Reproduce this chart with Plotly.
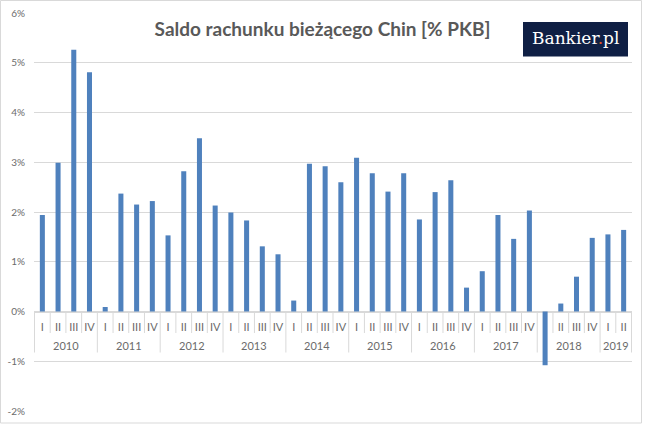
import plotly.graph_objects as go

year_labels = ["2010", "2011", "2012", "2013", "2014", "2015", "2016", "2017", "2018", "2019"]
quarters_per_year = [4, 4, 4, 4, 4, 4, 4, 4, 4, 2]
quarter_names = ["I", "II", "III", "IV"]

values = [1.94, 2.99, 5.26, 4.81,
          0.09, 2.37, 2.15, 2.22,
          1.53, 2.82, 3.48, 2.13,
          1.99, 1.83, 1.31, 1.15,
          0.22, 2.97, 2.92, 2.60,
          3.09, 2.78, 2.41, 2.78,
          1.85, 2.40, 2.64, 0.48,
          0.81, 1.94, 1.46, 2.03,
          -1.08, 0.16, 0.70, 1.48,
          1.55, 1.64]

y_tickvals = [-2, -1, 0, 1, 2, 3, 4, 5, 6]
y_ticktext = ["-2%", "-1%", "0%", "1%", "2%", "3%", "4%", "5%", "6%"]
y_range = [-2, 6]

title_text = "Saldo rachunku bieżącego Chin [% PKB]"

categories = []
x_quarters = []
for y, n in zip(year_labels, quarters_per_year):
    for q in quarter_names[:n]:
        categories.append(y + " " + q)
        x_quarters.append(q)

GRID = "#d9d9d9"
TXT = "#6b6b6b"
BAR = "#4f81bd"

W, H = 645, 424
ml, mr, mt, mb = 34, 13, 13, 13
pw, ph = W - ml - mr, H - mt - mb

def px(x):
    return (x - ml) / pw

def py(y):
    return (H - mb - y) / ph

zero_pos = (0 - y_range[0]) / (y_range[1] - y_range[0])

fig = go.Figure()
fig.add_trace(go.Bar(x=categories, y=values, marker=dict(color=BAR, line=dict(width=0))))

shapes = [
    dict(type="rect", xref="paper", yref="paper",
         x0=px(0.5), x1=px(641.5), y0=py(423), y1=py(0.5),
         line=dict(color=GRID, width=1), fillcolor="rgba(0,0,0,0)", layer="below"),
    dict(type="rect", xref="paper", yref="paper",
         x0=px(523), x1=px(628), y0=py(56.5), y1=py(22),
         line=dict(width=0), fillcolor="#0f1f44", layer="above"),
]
annotations = [
    dict(text="Bankier<span style='color:#e8541e'>.</span>pl", xref="paper", yref="paper",
         x=px(575.5), y=py(38), xanchor="center", yanchor="middle", showarrow=False,
         font=dict(family="DejaVu Serif", size=17, color="white")),
]

# quarter separators, year group dividers and year labels, positioned by category index
start = 0
year_bounds = [-0.5]
for y, n in zip(year_labels, quarters_per_year):
    annotations.append(dict(text=y, xref="x", yref="paper", x=start + (n - 1) / 2, y=py(345),
                            xanchor="center", yanchor="middle", showarrow=False,
                            font=dict(family="Lato", size=11, color=TXT)))
    start += n
    year_bounds.append(start - 0.5)
for i in range(len(categories) + 1):
    b = i - 0.5
    bottom = py(352.5) if b in year_bounds else py(333)
    shapes.append(dict(type="line", xref="x", yref="paper", x0=b, x1=b, y0=zero_pos, y1=bottom,
                       line=dict(color=GRID, width=1), layer="below"))

fig.update_layout(
    width=W, height=H,
    margin=dict(l=ml, r=mr, t=mt, b=mb, autoexpand=False),
    paper_bgcolor="white", plot_bgcolor="white",
    showlegend=False,
    bargap=0.68,
    font=dict(family="Lato", color=TXT, size=10),
    title=dict(text="<b>" + title_text + "</b>", x=0.5, xref="container", xanchor="center",
               y=1 - 29 / H, yref="container", yanchor="middle",
               font=dict(family="Lato", size=19, color="#595959")),
    xaxis=dict(type="category", anchor="free", position=zero_pos,
               tickvals=categories, ticktext=x_quarters,
               automargin=False, tickangle=0,
               layer="below traces", showgrid=False, showline=True, linecolor=GRID, linewidth=1,
               ticks="", ticklabelstandoff=5,
               tickfont=dict(family="Lato", size=11, color=TXT)),
    yaxis=dict(range=y_range, tickvals=y_tickvals, ticktext=y_ticktext, automargin=False,
               showgrid=True, gridcolor=GRID, gridwidth=1,
               zeroline=False, showline=False, ticks="",
               ticklabelstandoff=8,
               tickfont=dict(family="Lato", size=10, color=TXT)),
    shapes=shapes,
    annotations=annotations,
)

fig.write_html("out.html", config={"displayModeBar": False},
               post_script="document.body.style.margin='0';document.body.style.overflow='hidden';")
